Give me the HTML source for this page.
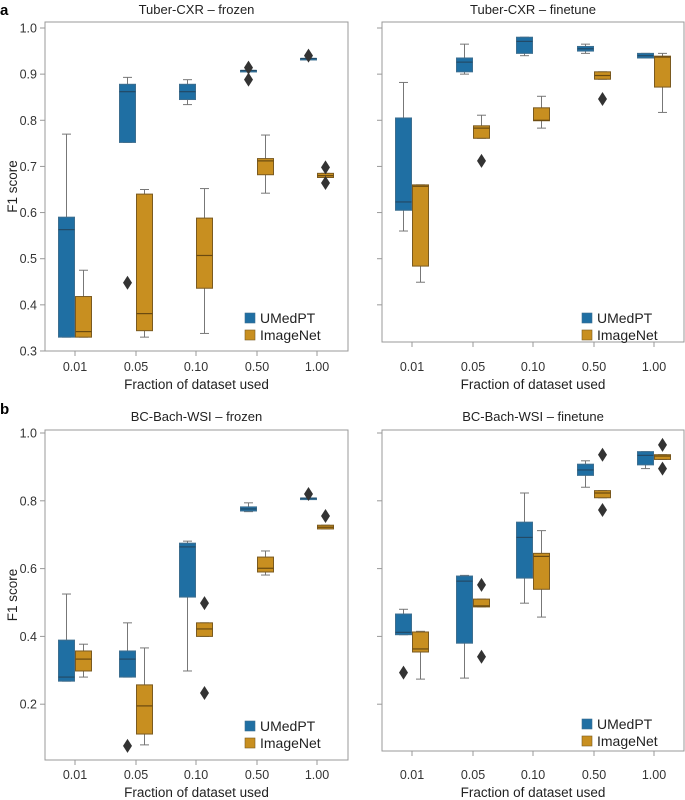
<!DOCTYPE html>
<html><head><meta charset="utf-8"><style>
html,body{margin:0;padding:0;background:#fff;}
svg{display:block;font-family:"Liberation Sans",sans-serif;}
</style></head><body>
<svg id="s" width="685" height="800" xmlns="http://www.w3.org/2000/svg">
<text x="0" y="15" font-size="15" font-weight="bold" fill="#000">a</text>
<text x="0" y="414" font-size="15" font-weight="bold" fill="#000">b</text>
</svg>
<script>
const S=document.getElementById('s');let h='';
const B='#1f6fa3',O='#c88f20',BE='#3d6e8f',OE='#7a5a20';
const pan=[
 {L:45,R:348,T:22,Bt:351,y:v=>28+(1-v)*461.4,ticks:[1,.9,.8,.7,.6,.5,.4,.3],fmt:1,lab:true,xt:[75,136,196,257,317],title:'Tuber-CXR – frozen',ty:14,xly:389,tly:371,leg:313,
  d:[[[.33,.33,.563,.59,.77],[.33,.33,.342,.418,.475]],
     [[.752,.752,.862,.878,.893,[.448]],[.33,.344,.381,.64,.65]],
     [[.834,.845,.862,.878,.888],[.338,.436,.507,.588,.652]]
     ,[[.908,.908,.908,.908,.908,[.914,.888]],[.642,.682,.712,.717,.768]],
     [[.934,.934,.934,.934,.934,[.94]],[.676,.676,.68,.685,.685,[.698,.664]]]]},
 {L:382,R:684,T:22,Bt:342,y:v=>28+(1-v)*461.4,ticks:[1,.9,.8,.7,.6,.5,.4],lab:false,xt:[412,473,533,594,654],title:'Tuber-CXR – finetune',ty:14,xly:389,tly:371,leg:313,
  d:[[[.56,.605,.623,.805,.882],[.449,.484,.657,.66,.66]],
     [[.90,.905,.926,.935,.965],[.761,.761,.783,.788,.811,[.712]]],
     [[.940,.945,.971,.980,.980],[.783,.799,.80,.827,.852]],
     [[.945,.95,.955,.96,.965],[.889,.889,.897,.905,.905,[.846]]],
     [[.935,.935,.940,.945,.945],[.817,.872,.937,.939,.945]]]},
 {L:45,R:348,T:430,Bt:760,y:v=>772-v*339,ticks:[1,.8,.6,.4,.2],lab:true,xt:[75,136,196,257,317],title:'BC-Bach-WSI – frozen',ty:421,xly:797,tly:779,leg:721,
  d:[[[.268,.268,.28,.389,.525],[.28,.298,.333,.357,.377]],
     [[.28,.28,.333,.357,.44,[.077]],[.08,.112,.195,.257,.366]],
     [[.298,.516,.664,.675,.681],[.40,.40,.422,.44,.44,[.498,.233]]],
     [[.768,.77,.776,.782,.794],[.581,.59,.601,.634,.652]],
     [[.808,.808,.808,.808,.808,[.82]],[.717,.717,.722,.728,.728,[.755]]]]},
 {L:382,R:684,T:430,Bt:751,y:v=>772-v*339,ticks:[1,.8,.6,.4,.2],lab:false,xt:[412,473,533,594,654],title:'BC-Bach-WSI – finetune',ty:421,xly:797,tly:779,leg:719,
  d:[[[.405,.405,.412,.466,.48,[.293]],[.274,.354,.363,.413,.415]],
     [[.277,.38,.563,.578,.58],[.487,.487,.49,.51,.51,[.552,.34]]],
     [[.498,.572,.692,.737,.823],[.457,.539,.636,.645,.712]],
     [[.84,.875,.891,.908,.918],[.809,.809,.823,.83,.83,[.936,.773]]],
     [[.895,.906,.934,.945,.945],[.922,.922,.932,.936,.936,[.965,.895]]]]}
];
function dia(x,y){return `<path d="M${x} ${y-7}L${x+4.5} ${y}L${x} ${y+7}L${x-4.5} ${y}Z" fill="#333"/>`;}
pan.forEach(p=>{
 const cx=(p.L+p.R)/2;
 h+=`<text x="${cx}" y="${p.ty}" font-size="13" text-anchor="middle" fill="#222">${p.title}</text>`;
 h+=`<rect x="${p.L}" y="${p.T}" width="${p.R-p.L}" height="${p.Bt-p.T}" fill="none" stroke="#999" stroke-width="1"/>`;
 p.ticks.forEach(t=>{const y=p.y(t);h+=`<line x1="${p.L-5}" x2="${p.L}" y1="${y}" y2="${y}" stroke="#999"/>`;
  if(p.lab)h+=`<text x="${p.L-8}" y="${y+4.5}" font-size="12.5" text-anchor="end" fill="#333">${t.toFixed(1)}</text>`;});
 const xl=['0.01','0.05','0.10','0.50','1.00'];
 p.xt.forEach((x,i)=>{h+=`<line x1="${x}" x2="${x}" y1="${p.Bt}" y2="${p.Bt+5}" stroke="#999"/>`;
  h+=`<text x="${x}" y="${p.tly}" font-size="12.5" text-anchor="middle" fill="#333">${xl[i]}</text>`;
  p.d[i].forEach((b,j)=>{
   const x0=j==0?x-17:x,x1=x0+17,m=(x0+x1)/2,c=j==0?B:O,e=j==0?BE:OE;
   const[lo,q1,md,q3,hi,out]=b;const Y=p.y;
   h+=`<line x1="${m}" x2="${m}" y1="${Y(hi)}" y2="${Y(q3)}" stroke="#777"/><line x1="${m}" x2="${m}" y1="${Y(q1)}" y2="${Y(lo)}" stroke="#777"/>`;
   h+=`<line x1="${m-4.5}" x2="${m+4.5}" y1="${Y(hi)}" y2="${Y(hi)}" stroke="#777"/><line x1="${m-4.5}" x2="${m+4.5}" y1="${Y(lo)}" y2="${Y(lo)}" stroke="#777"/>`;
   const hh=Math.max(Y(q1)-Y(q3),1.5);
   h+=`<rect x="${x0+.5}" y="${Y(q3)}" width="16" height="${hh}" fill="${c}" stroke="${e}" stroke-width="1"/>`;
   h+=`<line x1="${x0+.5}" x2="${x1-.5}" y1="${Y(md)}" y2="${Y(md)}" stroke="${j==0?'#234a66':'#6a4a10'}" stroke-width="1.2"/>`;
   if(out)out.forEach(o=>h+=dia(m,Y(o)));
  });
 });
 h+=`<text x="${cx}" y="${p.xly}" font-size="13.5" text-anchor="middle" fill="#222">Fraction of dataset used</text>`;
 if(p.lab){const yc=(p.T+p.Bt)/2;h+=`<text transform="translate(17 ${yc}) rotate(-90)" font-size="13.5" text-anchor="middle" fill="#222">F1 score</text>`;}
 const lx=p.L+200;
 h+=`<rect x="${lx}" y="${p.leg}" width="10" height="10" fill="${B}" stroke="${BE}" stroke-width=".6"/><text x="${lx+15}" y="${p.leg+10}" font-size="14" fill="#222">UMedPT</text>`;
 h+=`<rect x="${lx}" y="${p.leg+17}" width="10" height="10" fill="${O}" stroke="${OE}" stroke-width=".6"/><text x="${lx+15}" y="${p.leg+27}" font-size="14" fill="#222">ImageNet</text>`;
});
S.insertAdjacentHTML('beforeend',h);
</script>
</body></html>
